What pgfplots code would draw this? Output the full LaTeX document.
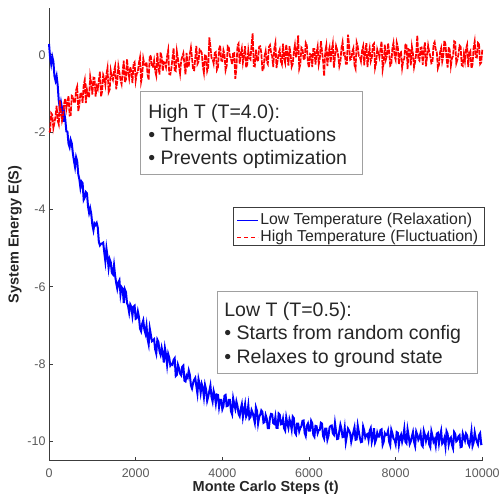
\documentclass[border=0pt]{standalone}
\usepackage{pgfplots}
\pgfplotsset{compat=1.18}
\usepackage{fontspec}
\setmainfont{Liberation Sans}
\definecolor{axgray}{RGB}{60,60,60}
\definecolor{ticklab}{RGB}{90,90,90}
\definecolor{txtgray}{RGB}{38,38,38}
\definecolor{boxgray}{RGB}{160,160,160}

\begin{document}
\begin{tikzpicture}
\useasboundingbox (-49pt,-42.3pt) rectangle (453pt,460.4pt);
\begin{axis}[
  scale only axis,
  width=433pt, height=452pt,
  xmin=0, xmax=10000,
  ymin=-10.5, ymax=1.2,
  clip=false,
  axis x line*=bottom, axis y line*=left,
  axis line style={axgray, line width=0.6pt, -},
  xtick={0,2000,...,10000},
  ytick={-10,-8,...,0},
  scaled x ticks=false,
  tick align=inside,
  major tick length=4pt,
  tick style={axgray, line width=0.6pt},
  ticklabel style={font=\fontsize{12.5}{14}\selectfont, text=ticklab},
  xticklabel style={yshift=-5pt},
  /pgf/number format/assume math mode=true,
  /pgf/number format/1000 sep={},
  xlabel={Monte Carlo Steps (t)},
  ylabel={System Energy E(S)},
  xlabel style={at={(axis description cs:0.5,-0.0604)}, anchor=center,
    font=\bfseries\fontsize{14.5}{16}\selectfont, text=txtgray},
  ylabel style={at={(axis description cs:-0.0785,0.5)}, anchor=center,
    font=\bfseries\fontsize{14.5}{16}\selectfont, text=txtgray},
]
% low temperature run
\addplot[blue, line width=2pt] coordinates {
(0,0.28) (25,-0.07) (50,-0.24) (75,-0.05) (100,-0.17) (125,-0.55) (150,-0.67) (175,-0.55) (200,-0.79) (225,-1.19) (250,-1.38) (275,-1.22) (300,-1.38) (325,-1.73) (350,-1.49) (375,-1.67) (400,-1.98) (425,-1.99) (450,-2.30) (475,-2.39)
(500,-2.20) (525,-2.29) (550,-2.55) (575,-2.74) (600,-2.90) (625,-2.65) (650,-2.75) (675,-3.09) (700,-3.22) (725,-3.44) (750,-3.28) (775,-3.32) (800,-3.75) (825,-3.69) (850,-3.55) (875,-3.58) (900,-3.92) (925,-4.09) (950,-3.97) (975,-4.12)
(1000,-4.40) (1025,-4.54) (1050,-4.36) (1075,-4.40) (1100,-4.35) (1125,-4.47) (1150,-4.84) (1175,-4.93) (1200,-4.89) (1225,-4.88) (1250,-4.86) (1275,-5.11) (1300,-5.34) (1325,-5.01) (1350,-5.22) (1375,-5.51) (1400,-5.29) (1425,-5.37) (1450,-5.64) (1475,-5.68)
(1500,-5.44) (1525,-5.71) (1550,-5.90) (1575,-6.05) (1600,-5.89) (1625,-5.83) (1650,-6.20) (1675,-6.01) (1700,-6.05) (1725,-6.42) (1750,-6.07) (1775,-6.14) (1800,-6.42) (1825,-6.50) (1850,-6.67) (1875,-6.46) (1900,-6.52) (1925,-6.75) (1950,-6.52) (1975,-6.49)
(2000,-6.83) (2025,-6.81) (2050,-6.64) (2075,-6.78) (2100,-7.08) (2125,-7.15) (2150,-6.96) (2175,-6.87) (2200,-7.11) (2225,-7.21) (2250,-7.01) (2275,-7.35) (2300,-7.49) (2325,-7.08) (2350,-7.24) (2375,-7.41) (2400,-7.39) (2425,-7.36) (2450,-7.62) (2475,-7.73)
(2500,-7.37) (2525,-7.43) (2550,-7.67) (2575,-7.76) (2600,-7.58) (2625,-7.72) (2650,-7.96) (2675,-7.59) (2700,-7.75) (2725,-8.02) (2750,-7.74) (2775,-7.84) (2800,-8.04) (2825,-8.00) (2850,-8.02) (2875,-7.89) (2900,-7.85) (2925,-8.31) (2950,-8.28) (2975,-8.02)
(3000,-8.11) (3025,-8.25) (3050,-8.29) (3075,-8.07) (3100,-8.04) (3125,-8.43) (3150,-8.45) (3175,-8.30) (3200,-8.35) (3225,-8.17) (3250,-8.28) (3275,-8.55) (3300,-8.63) (3325,-8.49) (3350,-8.41) (3375,-8.36) (3400,-8.57) (3425,-8.76) (3450,-8.39) (3475,-8.52)
(3500,-8.74) (3525,-8.52) (3550,-8.62) (3575,-8.85) (3600,-8.54) (3625,-8.66) (3650,-8.95) (3675,-8.84) (3700,-8.70) (3725,-8.56) (3750,-8.85) (3775,-8.97) (3800,-8.70) (3825,-8.81) (3850,-9.02) (3875,-8.79) (3900,-8.80) (3925,-9.11) (3950,-8.93) (3975,-8.93)
(4000,-9.17) (4025,-9.09) (4050,-8.82) (4075,-8.80) (4100,-9.09) (4125,-9.08) (4150,-8.93) (4175,-8.93) (4200,-9.22) (4225,-9.30) (4250,-8.89) (4275,-9.04) (4300,-9.16) (4325,-8.97) (4350,-9.09) (4375,-9.29) (4400,-9.35) (4425,-9.16) (4450,-9.04) (4475,-9.37)
(4500,-9.20) (4525,-9.04) (4550,-9.36) (4575,-9.29) (4600,-9.07) (4625,-9.41) (4650,-9.37) (4675,-9.19) (4700,-9.26) (4725,-9.39) (4750,-9.52) (4775,-9.12) (4800,-9.21) (4825,-9.54) (4850,-9.37) (4875,-9.31) (4900,-9.20) (4925,-9.24) (4950,-9.52) (4975,-9.50)
(5000,-9.32) (5025,-9.41) (5050,-9.66) (5075,-9.66) (5100,-9.39) (5125,-9.29) (5150,-9.30) (5175,-9.53) (5200,-9.55) (5225,-9.37) (5250,-9.65) (5275,-9.65) (5300,-9.28) (5325,-9.31) (5350,-9.56) (5375,-9.55) (5400,-9.42) (5425,-9.66) (5450,-9.72) (5475,-9.38)
(5500,-9.53) (5525,-9.65) (5550,-9.43) (5575,-9.53) (5600,-9.69) (5625,-9.36) (5650,-9.40) (5675,-9.77) (5700,-9.82) (5725,-9.54) (5750,-9.54) (5775,-9.74) (5800,-9.65) (5825,-9.61) (5850,-9.47) (5875,-9.46) (5900,-9.78) (5925,-9.86) (5950,-9.60) (5975,-9.54)
(6000,-9.72) (6025,-9.72) (6050,-9.47) (6075,-9.53) (6100,-9.83) (6125,-9.88) (6150,-9.60) (6175,-9.61) (6200,-9.79) (6225,-9.71) (6250,-9.70) (6275,-9.52) (6300,-9.54) (6325,-9.86) (6350,-9.93) (6375,-9.67) (6400,-9.67) (6425,-9.96) (6450,-9.86) (6475,-9.64)
(6500,-9.60) (6525,-9.59) (6550,-9.79) (6575,-9.83) (6600,-9.53) (6625,-9.74) (6650,-9.94) (6675,-9.93) (6700,-9.74) (6725,-9.57) (6750,-9.68) (6775,-9.89) (6800,-9.88) (6825,-9.66) (6850,-10.02) (6875,-9.85) (6900,-9.67) (6925,-9.72) (6950,-9.79) (6975,-10.01)
(7000,-9.88) (7025,-9.76) (7050,-9.64) (7075,-9.96) (7100,-9.95) (7125,-9.59) (7150,-9.75) (7175,-9.91) (7200,-10.02) (7225,-10.01) (7250,-9.62) (7275,-9.72) (7300,-9.90) (7325,-9.83) (7350,-9.81) (7375,-9.96) (7400,-9.73) (7425,-9.66) (7450,-10.01) (7475,-9.89)
(7500,-9.66) (7525,-10.03) (7550,-9.95) (7575,-9.78) (7600,-9.88) (7625,-9.88) (7650,-9.71) (7675,-9.69) (7700,-10.09) (7725,-10.01) (7750,-9.79) (7775,-9.84) (7800,-9.83) (7825,-9.73) (7850,-10.01) (7875,-10.10) (7900,-9.70) (7925,-9.79) (7950,-9.93) (7975,-9.96)
(8000,-10.07) (8025,-9.76) (8050,-9.78) (8075,-10.09) (8100,-9.90) (8125,-9.83) (8150,-10.01) (8175,-9.89) (8200,-9.68) (8225,-10.01) (8250,-10.05) (8275,-9.69) (8300,-9.86) (8325,-10.07) (8350,-10.00) (8375,-9.87) (8400,-9.76) (8425,-10.01) (8450,-10.12) (8475,-9.75)
(8500,-9.83) (8525,-9.96) (8550,-9.90) (8575,-9.79) (8600,-10.09) (8625,-10.13) (8650,-9.73) (8675,-9.83) (8700,-9.99) (8725,-9.87) (8750,-9.81) (8775,-10.08) (8800,-10.15) (8825,-9.74) (8850,-9.86) (8875,-10.01) (8900,-9.95) (8925,-10.11) (8950,-9.80) (8975,-9.78)
(9000,-10.05) (9025,-9.86) (9050,-9.73) (9075,-10.06) (9100,-10.02) (9125,-9.92) (9150,-10.13) (9175,-9.74) (9200,-9.81) (9225,-10.08) (9250,-9.94) (9275,-9.90) (9300,-10.09) (9325,-10.18) (9350,-9.76) (9375,-9.81) (9400,-10.00) (9425,-9.97) (9450,-9.87) (9475,-9.84)
(9500,-10.15) (9525,-10.14) (9550,-9.80) (9575,-9.89) (9600,-9.98) (9625,-9.80) (9650,-9.85) (9675,-10.05) (9700,-10.11) (9725,-9.95) (9750,-9.74) (9775,-10.12) (9800,-10.03) (9825,-9.77) (9850,-9.92) (9875,-10.01) (9900,-10.08) (9925,-9.84) (9950,-9.79) (9975,-10.07)
(10000,-10.06)
};
% high temperature run
\addplot[red, line width=1.7pt, dash pattern=on 5pt off 1pt] coordinates {
(0,-2.00) (25,-1.98) (50,-1.51) (75,-1.55) (100,-1.90) (125,-1.76) (150,-1.59) (175,-1.32) (200,-1.70) (225,-1.80) (250,-1.18) (275,-1.48) (300,-1.71) (325,-1.59) (350,-1.25) (375,-1.13) (400,-1.40) (425,-1.23) (450,-1.06) (475,-1.57)
(500,-1.56) (525,-1.06) (550,-1.08) (575,-1.22) (600,-1.24) (625,-0.91) (650,-0.82) (675,-1.46) (700,-1.30) (725,-0.98) (750,-1.02) (775,-1.24) (800,-0.78) (825,-0.65) (850,-1.25) (875,-0.90) (900,-1.05) (925,-1.10) (950,-0.56) (975,-0.74)
(1000,-1.03) (1025,-0.59) (1050,-0.60) (1075,-1.08) (1100,-0.82) (1125,-0.89) (1150,-0.65) (1175,-0.44) (1200,-1.08) (1225,-0.95) (1250,-0.52) (1275,-0.60) (1300,-0.78) (1325,-0.51) (1350,-0.34) (1375,-0.97) (1400,-0.90) (1425,-0.41) (1450,-0.57) (1475,-0.65)
(1500,-0.43) (1525,-0.30) (1550,-0.89) (1575,-0.69) (1600,-0.29) (1625,-0.46) (1650,-0.65) (1675,-0.76) (1700,-0.42) (1725,-0.15) (1750,-0.71) (1775,-0.64) (1800,-0.11) (1825,-0.43) (1850,-0.61) (1875,-0.32) (1900,-0.43) (1925,-0.73) (1950,-0.23) (1975,-0.19)
(2000,-0.67) (2025,-0.49) (2050,-0.44) (2075,-0.21) (2100,-0.07) (2125,-0.70) (2150,-0.55) (2175,-0.10) (2200,-0.25) (2225,-0.27) (2250,-0.19) (2275,-0.52) (2300,-0.65) (2325,-0.02) (2350,-0.04) (2375,-0.31) (2400,-0.31) (2425,-0.15) (2450,-0.42) (2475,-0.54)
(2500,0.05) (2525,-0.31) (2550,-0.51) (2575,0.06) (2600,-0.06) (2625,-0.42) (2650,-0.19) (2675,-0.21) (2700,-0.32) (2725,-0.04) (2750,0.12) (2775,-0.50) (2800,-0.51) (2825,-0.34) (2850,-0.08) (2875,0.17) (2900,-0.40) (2925,-0.42) (2950,0.09) (2975,-0.10)
(3000,-0.29) (3025,-0.49) (3050,-0.15) (3075,-0.05) (3100,0.04) (3125,-0.24) (3150,-0.51) (3175,0.05) (3200,-0.31) (3225,-0.31) (3250,0.02) (3275,0.19) (3300,-0.08) (3325,-0.39) (3350,-0.40) (3375,-0.09) (3400,0.23) (3425,-0.24) (3450,-0.18) (3475,0.14)
(3500,0.11) (3525,0.05) (3550,-0.30) (3575,-0.47) (3600,-0.01) (3625,-0.01) (3650,-0.42) (3675,-0.32) (3700,0.45) (3725,0.21) (3750,-0.08) (3775,-0.11) (3800,-0.23) (3825,0.05) (3850,0.07) (3875,-0.39) (3900,-0.32) (3925,0.15) (3950,0.24) (3975,-0.15)
(4000,-0.16) (4025,0.12) (4050,0.01) (4075,-0.40) (4100,-0.29) (4125,0.22) (4150,0.19) (4175,-0.04) (4200,-0.10) (4225,-0.25) (4250,0.06) (4275,0.05) (4300,-0.62) (4325,-0.34) (4350,0.24) (4375,0.29) (4400,-0.23) (4425,0.02) (4450,0.16) (4475,-0.20)
(4500,-0.01) (4525,0.22) (4550,-0.33) (4575,-0.25) (4600,0.12) (4625,-0.08) (4650,-0.12) (4675,0.27) (4700,0.55) (4725,-0.29) (4750,-0.30) (4775,0.13) (4800,-0.16) (4825,-0.14) (4850,0.21) (4875,0.22) (4900,0.04) (4925,-0.40) (4950,-0.40) (4975,-0.03)
(5000,0.10) (5025,-0.18) (5050,-0.24) (5075,0.20) (5100,0.25) (5125,0.06) (5150,-0.04) (5175,-0.32) (5200,0.17) (5225,0.31) (5250,-0.34) (5275,-0.16) (5300,0.04) (5325,0.13) (5350,-0.17) (5375,-0.25) (5400,0.29) (5425,-0.09) (5450,-0.21) (5475,0.27)
(5500,0.01) (5525,-0.28) (5550,0.22) (5575,0.02) (5600,-0.31) (5625,-0.23) (5650,0.07) (5675,0.25) (5700,-0.07) (5725,0.10) (5750,0.50) (5775,-0.36) (5800,-0.25) (5825,0.19) (5850,0.16) (5875,-0.10) (5900,-0.13) (5925,0.31) (5950,0.25) (5975,-0.20)
(6000,-0.33) (6025,0.02) (6050,0.00) (6075,-0.32) (6100,0.15) (6125,0.15) (6150,-0.25) (6175,0.05) (6200,0.21) (6225,-0.25) (6250,-0.10) (6275,0.35) (6300,0.10) (6325,-0.16) (6350,-0.55) (6375,0.08) (6400,0.24) (6425,-0.29) (6450,0.05) (6475,0.18)
(6500,-0.20) (6525,0.12) (6550,0.29) (6575,-0.33) (6600,-0.06) (6625,0.23) (6650,0.13) (6675,-0.03) (6700,-0.30) (6725,-0.19) (6750,0.19) (6775,0.33) (6800,0.01) (6825,0.04) (6850,-0.23) (6875,-0.23) (6900,0.52) (6925,0.27) (6950,-0.13) (6975,-0.11)
(7000,0.08) (7025,0.17) (7050,-0.27) (7075,-0.36) (7100,0.32) (7125,0.22) (7150,-0.03) (7175,-0.05) (7200,-0.17) (7225,0.11) (7250,0.22) (7275,-0.27) (7300,0.10) (7325,0.30) (7350,-0.32) (7375,0.01) (7400,0.17) (7425,-0.17) (7450,-0.08) (7475,0.25)
(7500,0.29) (7525,-0.34) (7550,-0.21) (7575,0.14) (7600,0.04) (7625,-0.07) (7650,0.15) (7675,0.35) (7700,-0.38) (7725,-0.21) (7750,0.26) (7775,-0.12) (7800,-0.02) (7825,0.30) (7850,0.07) (7875,-0.28) (7900,-0.25) (7925,0.17) (7950,0.31) (7975,-0.03)
(8000,-0.13) (8025,0.32) (8050,0.21) (8075,-0.24) (8100,0.05) (8125,0.07) (8150,-0.34) (8175,-0.15) (8200,-0.10) (8225,0.26) (8250,0.28) (8275,-0.37) (8300,0.14) (8325,0.12) (8350,-0.27) (8375,0.21) (8400,0.03) (8425,-0.32) (8450,-0.18) (8475,0.04)
(8500,0.50) (8525,-0.11) (8550,-0.15) (8575,0.18) (8600,0.19) (8625,-0.26) (8650,0.10) (8675,0.32) (8700,-0.30) (8725,-0.05) (8750,0.24) (8775,0.08) (8800,-0.04) (8825,-0.22) (8850,-0.20) (8875,0.27) (8900,0.33) (8925,0.14) (8950,0.07) (8975,-0.35)
(9000,-0.26) (9025,0.06) (9050,0.17) (9075,-0.17) (9100,-0.03) (9125,0.37) (9150,0.27) (9175,-0.09) (9200,-0.33) (9225,0.20) (9250,0.12) (9275,-0.29) (9300,-0.09) (9325,-0.03) (9350,0.35) (9375,0.33) (9400,-0.22) (9425,-0.13) (9450,0.01) (9475,0.24)
(9500,0.21) (9525,-0.27) (9550,-0.29) (9575,0.02) (9600,-0.16) (9625,0.16) (9650,0.26) (9675,-0.32) (9700,0.05) (9725,0.10) (9750,-0.35) (9775,-0.25) (9800,0.18) (9825,0.35) (9850,-0.06) (9875,-0.07) (9900,0.31) (9925,0.28) (9950,-0.24) (9975,-0.20)
(10000,0.13)
};
\end{axis}

% legend, drawn by hand so its line colours stay as they are
\draw[axgray, line width=0.6pt, fill=white] (184.3pt,215pt) rectangle (435.3pt,253.4pt);
\draw[blue, line width=1.2pt] (188pt,240pt) -- (209pt,240pt);
\draw[red, line width=1.2pt, dash pattern=on 4pt off 3pt] (188pt,223.4pt) -- (209pt,223.4pt);
\begin{scope}[every node/.style={anchor=west, inner sep=0pt, text=txtgray,
    font=\fontsize{15.8}{17}\selectfont}]
\node at (211pt,240pt) {Low Temperature (Relaxation)};
\node at (211pt,223.4pt) {High Temperature (Fluctuation)};
\end{scope}

% annotation boxes
\begin{scope}[every node/.style={anchor=base west, inner sep=0pt, text=txtgray,
    font=\fontsize{19.5}{22}\selectfont}]
\draw[boxgray, line width=0.6pt, fill=white] (91pt,285.7pt) rectangle (313pt,368.7pt);
\node at (99pt,342.4pt) {High T (T=4.0):};
\node at (99pt,319pt) {• Thermal fluctuations};
\node at (99pt,296.4pt) {• Prevents optimization};
\draw[boxgray, line width=0.6pt, fill=white] (168pt,87.7pt) rectangle (428pt,169.7pt);
\node at (175pt,144pt) {Low T (T=0.5):};
\node at (175pt,120.7pt) {• Starts from random config};
\node at (175pt,97.4pt) {• Relaxes to ground state};
\end{scope}
\end{tikzpicture}
\end{document}
